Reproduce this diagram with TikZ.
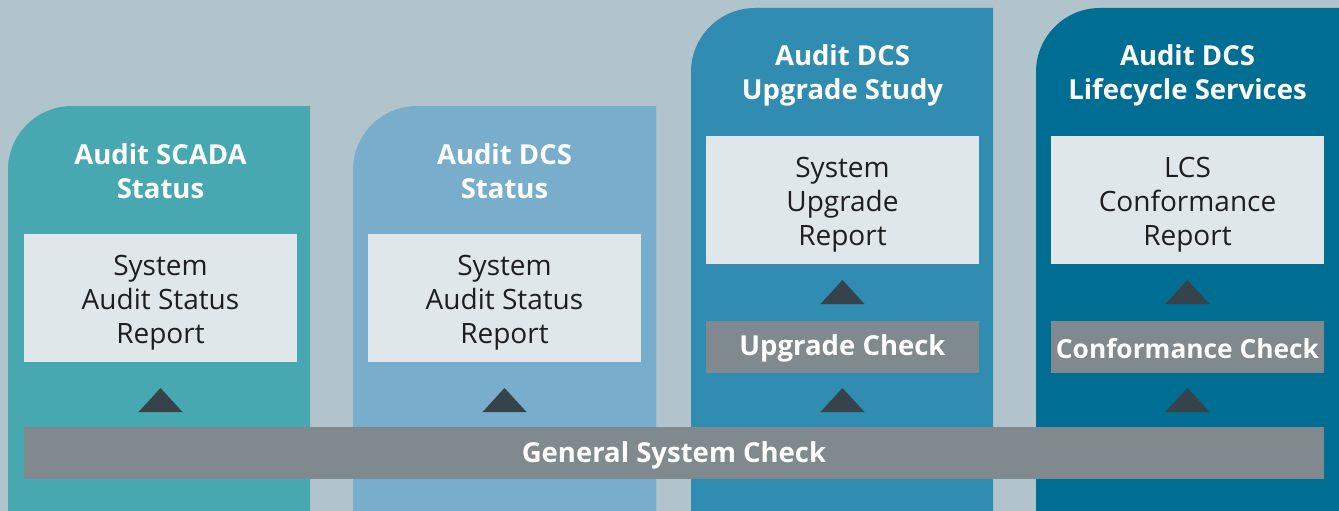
\documentclass[tikz,border=0pt]{standalone}
\usepackage{fontspec}
\setmainfont{Open Sans}
\definecolor{bg}{HTML}{B1C3CB}
\definecolor{cA}{HTML}{47A8B1}
\definecolor{cB}{HTML}{78AECB}
\definecolor{cC}{HTML}{308CB0}
\definecolor{cD}{HTML}{006E93}
\definecolor{boxc}{HTML}{E0E7EB}
\definecolor{grayc}{HTML}{7F898E}
\definecolor{tric}{HTML}{37434A}
\definecolor{txt}{HTML}{1E1E1E}
\tikzset{
  x=1pt, y=-1pt,
  title/.style={font=\fontsize{27.5}{34}\selectfont\bfseries, align=center, inner sep=0pt, text=white},
  body/.style={font=\fontsize{28}{34}\selectfont, align=center, inner sep=0pt, text=txt},
  chk/.style={font=\fontsize{27.5}{34}\selectfont\bfseries, align=center, inner sep=0pt, text=white},
  report/.style={fill=boxc, inner sep=0pt, minimum width=273pt, minimum height=128pt},
  check/.style={fill=grayc, inner sep=0pt, minimum width=273pt, minimum height=52pt},
  tri/.style={fill=tric}
}
\begin{document}
\begin{tikzpicture}
\fill[bg] (0,0) rectangle (1339,511);
\useasboundingbox (0,0) rectangle (1339,511);
% columns
\fill[cA] (8,511) -- (8,170) .. controls (8,134.7) and (36.7,106) .. (72,106) -- (310,106) -- (310,511) -- cycle;
\fill[cB] (353,511) -- (353,170) .. controls (353,134.7) and (381.7,106) .. (417,106) -- (656,106) -- (656,511) -- cycle;
\fill[cC] (691,511) -- (691,72) .. controls (691,36.7) and (719.7,8) .. (755,8) -- (993,8) -- (993,511) -- cycle;
\fill[cD] (1036,511) -- (1036,72) .. controls (1036,36.7) and (1064.7,8) .. (1100,8) -- (1339,8) -- (1339,511) -- cycle;
% titles
\node[title] (t1) at (160.5,171) {Audit SCADA\\Status};
\node[title] (t2) at (504.5,171) {Audit DCS\\Status};
\node[title] (t3) at (842.5,75) {Audit DCS\\Upgrade Study};
\node[title] (t4) at (1187.5,75) {Audit DCS\\Lifecycle Services};
% report boxes
\node[report] (r1) at (160.5,298) {};
\node[report] (r2) at (504.5,298) {};
\node[report] (r3) at (842.5,200) {};
\node[report] (r4) at (1187.5,200) {};
\node[body] (r1t) at ([yshift=-5pt]r1.center) {System\\Audit Status\\Report};
\node[body] (r2t) at ([yshift=-5pt]r2.center) {System\\Audit Status\\Report};
\node[body] (r3t) at ([yshift=-5pt]r3.center) {System\\Upgrade\\Report};
\node[body] (r4t) at ([yshift=-5pt]r4.center) {LCS\\Conformance\\Report};
% checks
\node[check] (u3) at (842.5,346.5) {};
\node[check] (u4) at (1187.5,346.5) {};
\node[check, minimum width=1300pt] (g) at (674,453) {};
\node[chk] (u3t) at ([yshift=-2pt]u3.center) {Upgrade Check};
\node[chk, font=\fontsize{26.3}{34}\selectfont\bfseries] (u4t) at ([yshift=-2pt]u4.center) {Conformance Check};
\node[chk] (gt) at ([yshift=-2pt]g.center) {General System Check};
% triangles
\foreach \cx/\ty in {160.5/388, 504.5/388, 842.5/388, 1187.5/388, 842.5/280, 1187.5/280}{
  \fill[tri] (\cx-22,\ty+24) -- (\cx,\ty) -- (\cx+22,\ty+24) -- cycle;
}
\end{tikzpicture}
\end{document}
